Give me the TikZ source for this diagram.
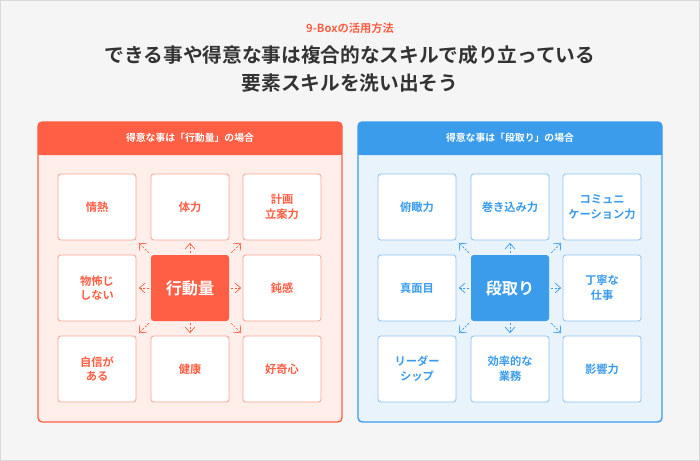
\documentclass[tikz,border=0pt]{standalone}
\usepackage{fontspec}
\newfontfamily\jp{Noto Sans CJK JP}[BoldFont={* Bold}]
\usetikzlibrary{arrows.meta,calc}
\definecolor{orng}{HTML}{FF5F45}
\definecolor{orngbg}{HTML}{FFEEEA}
\definecolor{orngln}{HTML}{F9A594}
\definecolor{blu}{HTML}{3B9CEC}
\definecolor{blubg}{HTML}{E8F3FC}
\definecolor{bluln}{HTML}{8EC3F2}
\definecolor{ink}{HTML}{333333}
\tikzset{
  cell/.style={draw=#1, line width=1.2pt, fill=white, rounded corners=4pt, minimum width=3.9cm, minimum height=3.3cm, font=\jp\bfseries\fontsize{16}{21}\selectfont, align=center, inner sep=0pt},
  core/.style={fill=#1, rounded corners=4pt, minimum width=3.9cm, minimum height=3.3cm, text=white, font=\jp\bfseries\fontsize{23}{28}\selectfont, inner sep=0pt},
  ray/.style={draw=#1, densely dashed, line width=1pt, -{Straight Barb[length=8pt,width=14pt,line width=1pt]}},
}
\begin{document}
\begin{tikzpicture}[x=0.05cm,y=-0.05cm]
  \useasboundingbox (0,0) rectangle (700,461);
  \fill[black!4] (0,0) rectangle (700,461);
  \draw[black!15] (0.5,0.5) rectangle (699.5,460.5);
  \node[text=orng, font=\jp\bfseries\fontsize{16}{20}\selectfont] (kicker) at (350,28) {9-Boxの活用方法};
  \node[text=ink, font=\jp\bfseries\fontsize{28}{40}\selectfont, align=center] (title) at (350,69) {できる事や得意な事は複合的なスキルで成り立っている\\要素スキルを洗い出そう};
  % left panel
  \fill[orngbg, draw=orng, line width=2pt, rounded corners=6pt] (38,122) rectangle (342,422);
  \fill[orng, rounded corners=6pt] (38,122) rectangle (342,155);
  \fill[orng] (38,145) rectangle (342,155);
  \node[text=white, font=\jp\bfseries\fontsize{14}{18}\selectfont] (lhead) at (190,138) {得意な事は「行動量」の場合};
  \node[cell=orngln, text=orng] (l11) at (97,207) {情熱};
  \node[cell=orngln, text=orng] (l12) at (190,207) {体力};
  \node[cell=orngln, text=orng] (l13) at (282,207) {計画\\立案力};
  \node[cell=orngln, text=orng] (l21) at (97,288) {物怖じ\\しない};
  \node[core=orng] (l22) at (190,288) {行動量};
  \node[cell=orngln, text=orng] (l23) at (282,288) {鈍感};
  \node[cell=orngln, text=orng] (l31) at (97,369) {自信が\\ある};
  \node[cell=orngln, text=orng] (l32) at (190,369) {健康};
  \node[cell=orngln, text=orng] (l33) at (282,369) {好奇心};
  % right panel
  \fill[blubg, draw=blu, line width=2pt, rounded corners=6pt] (358,122) rectangle (662,422);
  \fill[blu, rounded corners=6pt] (358,122) rectangle (662,155);
  \fill[blu] (358,145) rectangle (662,155);
  \node[text=white, font=\jp\bfseries\fontsize{14}{18}\selectfont] (rhead) at (510,138) {得意な事は「段取り」の場合};
  \node[cell=bluln, text=blu] (r11) at (417,207) {俯瞰力};
  \node[cell=bluln, text=blu] (r12) at (510,207) {巻き込み力};
  \node[cell=bluln, text=blu] (r13) at (602,207) {コミュニ\\ケーション力};
  \node[cell=bluln, text=blu] (r21) at (417,288) {真面目};
  \node[core=blu] (r22) at (510,288) {段取り};
  \node[cell=bluln, text=blu] (r23) at (602,288) {丁寧な\\仕事};
  \node[cell=bluln, text=blu] (r31) at (417,369) {リーダー\\シップ};
  \node[cell=bluln, text=blu] (r32) at (510,369) {効率的な\\業務};
  \node[cell=bluln, text=blu] (r33) at (602,369) {影響力};
  % rays from the core boxes
  \foreach \c/\k in {l22/orng,r22/blu}
    \foreach \an/\dx/\dy in {north/0/-1,south/0/1,east/1/0,west/-1/0,north east/1/-1,north west/-1/-1,south east/1/1,south west/-1/1}
      \draw[ray=\k] ($(\c.\an)+(2*\dx,2*\dy)$) -- ($(\c.\an)+(12*\dx,12*\dy)$);
\end{tikzpicture}
\end{document}
